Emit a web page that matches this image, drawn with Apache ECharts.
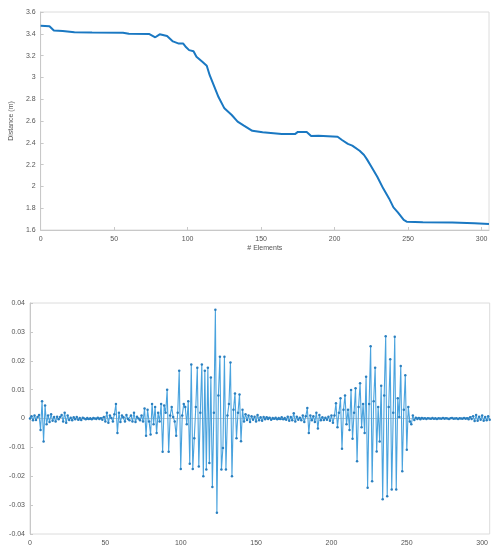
<!DOCTYPE html>
<html><head><meta charset="utf-8">
<script src="https://cdn.jsdelivr.net/npm/echarts@6/dist/echarts.min.js"></script>
<style>html,body{margin:0;padding:0;background:#fff}#c{width:491px;height:547px}</style>
</head><body><div id="c"></div>
<script>
// Top chart: distance vs element index (breakpoints)
const distIdx = [0,6,7,9,15,23,35,56,60,74,78,81,86,90,94,97,99,101,104,106,110,113,115,118,121,125,130,134,138,144,151,164,173,175,181,184,189,202,205,209,212,217,220,222,225,229,230,233,237,240,243,247,249,260,280,295,305];
const distVal = [3.474,3.47,3.455,3.43,3.425,3.415,3.412,3.41,3.40,3.398,3.368,3.395,3.38,3.33,3.31,3.31,3.276,3.25,3.24,3.19,3.144,3.107,3.02,2.92,2.82,2.716,2.655,2.594,2.56,2.51,2.496,2.48,2.48,2.50,2.50,2.463,2.465,2.456,2.426,2.39,2.374,2.327,2.288,2.248,2.18,2.089,2.074,1.982,1.89,1.808,1.762,1.692,1.676,1.672,1.668,1.663,1.655];
// Bottom chart: signal values, index 0..305
const sigVal = [
0,0.0008,-0.0006,0.001,-0.0005,0.0005,0.0012,-0.004,0.006,-0.008,
0.0045,-0.002,0.001,-0.0012,0.0015,-0.0008,0.0005,-0.001,0.0006,-0.0003,
0.0005,0.0012,-0.001,0.002,-0.0015,0.001,-0.0005,0.0003,-0.0006,0.0004,
-0.0003,0.0005,-0.0004,0.0002,-0.0005,0.0003,0,-0.0003,0.0002,-0.0002,
0.0001,-0.0003,0.0002,0,-0.0002,0.0003,-0.0002,0.0001,-0.0004,0.0005,
-0.001,0.002,-0.0015,0.001,0.0002,-0.001,0.0015,0.005,-0.005,0.002,
-0.0012,0.001,0.0004,-0.001,0.0012,-0.0002,-0.0006,0.001,-0.001,0.002,
-0.0012,0.0006,0,-0.0006,0.001,-0.001,0.0035,-0.006,0.003,-0.001,
-0.0055,0.005,-0.002,0.004,-0.005,0.002,-0.001,0.005,-0.0115,0.0045,
0.002,0.010,-0.0115,0.001,0.004,0.0005,-0.001,-0.006,0.002,0.0165,
-0.0175,0.001,0.005,0.004,-0.002,0.006,-0.0157,0.0187,-0.0175,-0.0068,
0.004,0.0176,-0.0166,0.002,0.0187,-0.020,0.0165,-0.0177,0.0176,-0.0154,
0.0142,-0.0237,0.002,0.0377,-0.0326,0.008,0.0214,-0.0177,-0.0102,0.0214,
-0.0177,0.001,0.005,0.0194,-0.020,0.003,0.0087,-0.0068,0.002,0.0083,
-0.0079,0.003,-0.001,0.0015,-0.0005,0.001,-0.0012,0.0008,-0.0004,0.0006,
-0.001,0.0012,-0.0006,0.0004,-0.0008,0.0005,-0.0003,0.0004,-0.0002,0.0003,
-0.0004,0.0002,-0.0001,0.0003,-0.0003,0.0002,-0.0002,0.0004,-0.0003,0.0002,
-0.0004,0.0006,-0.0008,0.0005,-0.0006,0.0018,-0.001,0.0006,-0.0004,0.0003,
-0.0006,0.001,-0.0012,0.0008,0.0036,-0.005,0.001,-0.0006,0.0008,-0.0012,
0.002,-0.0035,0.0012,-0.0006,0.0004,-0.0005,0.0003,-0.0004,0.0006,-0.0008,
0.001,-0.0015,0.001,0.0053,-0.003,0.002,0.007,-0.0105,0.003,0.008,
-0.002,0.003,-0.004,0.0099,-0.007,0.002,0.0105,-0.0148,0.004,0.0122,
-0.003,0.005,-0.005,0.0145,-0.024,0.005,0.025,-0.0217,0.006,0.0176,
-0.0114,0.004,-0.008,0.0113,-0.028,0.008,0.0285,-0.0269,0.004,0.0205,
-0.0246,0.002,0.0283,-0.0246,0.007,0.0005,0.0182,-0.0183,0.003,0.015,
-0.0108,0.004,-0.001,-0.002,0.001,-0.0005,0.0003,-0.0002,0.0002,-0.0003,
0.0002,-0.0001,0.0001,-0.0002,0.0001,0,-0.0001,0.0002,-0.0001,0.0001,
-0.0002,0.0001,0,-0.0001,0.0002,-0.0001,0.0001,0,-0.0002,0.0001,
0.0002,-0.0001,0,0.0001,-0.0002,0.0001,0,-0.0001,0.0002,-0.0001,
0.0001,-0.0003,0.0004,-0.0002,0.0008,-0.0009,0.0012,-0.0008,0.0006,-0.0004,
0.001,-0.0008,0.0005,-0.0006,0.0008,-0.0004];
const xTicks = [0,50,100,150,200,250,300];
const xTitle = '# Elements';
const yTitle = 'Distance (m)';

const chart = echarts.init(document.getElementById('c'), null, {renderer:'canvas'});
const lbl = {fontSize:7, color:'#555', fontFamily:'Liberation Sans'};
const axLine = {lineStyle:{color:'#c8c8c8', width:1}};
const tick = {inside:true, length:3, lineStyle:{color:'#c8c8c8'}};
function xAxis(i, name){
  return {type:'value', gridIndex:i, min:0, max:305, interval:50,
    axisLine:axLine, axisTick:tick, splitLine:{show:false},
    axisLabel:Object.assign({margin:6, showMaxLabel:false, formatter:v=>xTicks.includes(v)?String(v):''}, lbl),
    name:name||'', nameLocation:'middle', nameGap:15, nameTextStyle:{fontSize:7,color:'#555',fontFamily:'Liberation Sans'}};
}
chart.setOption({
  animation:false,
  grid:[
    {left:36, top:12, right:2, bottom:317, show:true, borderColor:'#dcdcdc', borderWidth:1},
    {left:30, top:303, right:1, bottom:12, show:true, borderColor:'#dcdcdc', borderWidth:1}
  ],
  xAxis:[xAxis(0, xTitle), xAxis(1)],
  yAxis:[
    {type:'value', gridIndex:0, min:1.6, max:3.6, interval:0.2, axisLine:Object.assign({show:true},axLine), axisTick:Object.assign({show:true},tick), splitLine:{show:false},
     axisLabel:Object.assign({margin:5}, lbl), name:yTitle, nameLocation:'middle', nameGap:17, nameRotate:90,
     nameTextStyle:{fontSize:7,color:'#555',fontFamily:'Liberation Sans'}},
    {type:'value', gridIndex:1, min:-0.04, max:0.04, interval:0.01, axisLine:Object.assign({show:true},axLine), axisTick:Object.assign({show:true},tick), splitLine:{show:false},
     axisLabel:Object.assign({margin:5}, lbl)}
  ],
  series:[
    {type:'line', xAxisIndex:0, yAxisIndex:0, data:distIdx.map((x,i)=>[x,distVal[i]]), showSymbol:false,
     lineStyle:{color:'#1a78c2', width:2}},
    {type:'line', xAxisIndex:1, yAxisIndex:1, data:sigVal.map((v,i)=>[i,v]), symbol:'circle', symbolSize:2.5,
     itemStyle:{color:'#2a7fbf'}, lineStyle:{color:'#4aa3de', width:1.1}}
  ]
});
</script></body></html>
